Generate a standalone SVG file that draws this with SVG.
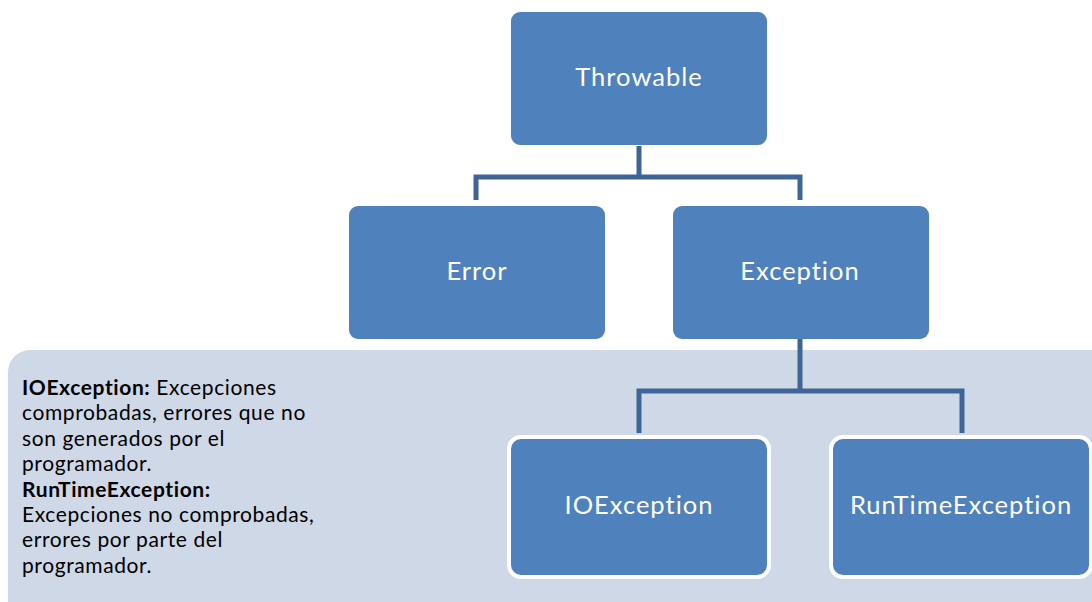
<svg xmlns="http://www.w3.org/2000/svg" width="1092" height="602" viewBox="0 0 1092 602">
<style>
.box{fill:#4F81BD;}
.wbox{fill:#4F81BD;stroke:#FFFFFF;stroke-width:4;}
.lbl{font-family:Lato,"Open Sans","Liberation Sans",sans-serif;font-size:25.5px;letter-spacing:1px;font-variant-ligatures:none;fill:#FFFFFF;text-anchor:middle;}
.con{fill:none;stroke:#3F6597;stroke-width:5;}
.note{font-family:Lato,"Open Sans","Liberation Sans",sans-serif;font-size:21px;letter-spacing:0.6px;font-variant-ligatures:none;fill:#000000;}
</style>
<rect width="1092" height="602" fill="#FFFFFF"/>
<rect id="panel" x="8" y="350" width="1110" height="275" rx="22" fill="#CFD8E7"/>
<g id="connectors">
<path class="con" d="M639,146 V177 M476,200 V177 H800 V200"/>
<path class="con" d="M800,339 V391 M639,433 V391 H962 V433"/>
</g>
<g id="throwable"><rect class="box" x="511" y="12" width="256" height="133" rx="9"/><text class="lbl" x="639" y="86">Throwable</text></g>
<g id="error"><rect class="box" x="349" y="206" width="256" height="133" rx="9"/><text class="lbl" x="477" y="280">Error</text></g>
<g id="exception"><rect class="box" x="673" y="206" width="256" height="133" rx="9"/><text class="lbl" x="800" y="280">Exception</text></g>
<g id="ioexception"><rect class="wbox" x="509" y="437" width="260" height="140" rx="12"/><text class="lbl" x="639" y="514">IOException</text></g>
<g id="runtimeexception"><rect class="wbox" x="831" y="437" width="260" height="140" rx="12"/><text class="lbl" x="961" y="514">RunTimeException</text></g>
<g id="note">
<text class="note" x="22" y="395"><tspan font-weight="bold">IOException:</tspan> Excepciones</text>
<text class="note" x="22" y="420.4">comprobadas, errores que no</text>
<text class="note" x="22" y="445.8">son generados por el</text>
<text class="note" x="22" y="471.2">programador.</text>
<text class="note" x="22" y="496.6" font-weight="bold">RunTimeException:</text>
<text class="note" x="22" y="522">Excepciones no comprobadas,</text>
<text class="note" x="22" y="547.4">errores por parte del</text>
<text class="note" x="22" y="572.8">programador.</text>
</g>
</svg>
